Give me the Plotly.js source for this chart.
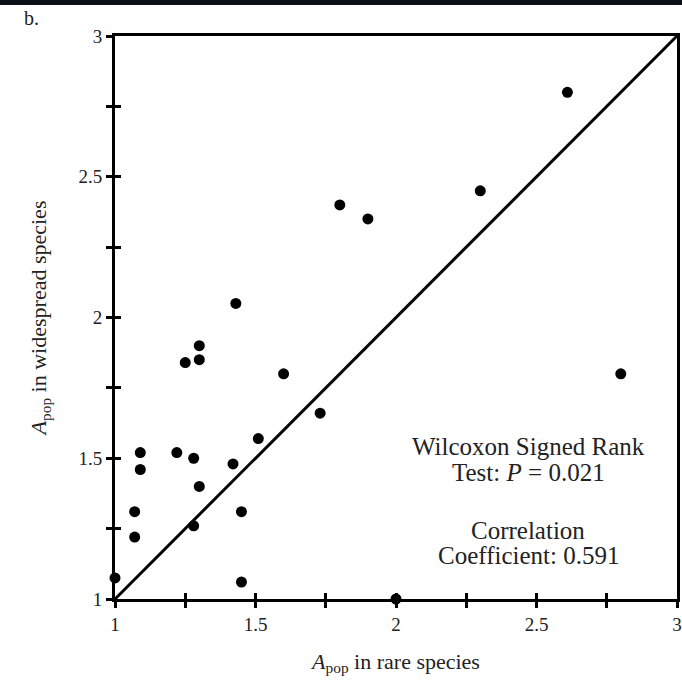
<!DOCTYPE html>
<html>
<head>
<meta charset="utf-8">
<script src="https://cdn.plot.ly/plotly-3.0.1.min.js"></script>
<style>html,body{margin:0;padding:0;background:#fff;}#chart{width:682px;height:688px;}</style>
</head>
<body>
<div id="chart"></div>
<script>
// A_pop in rare species (x) vs widespread species (y)
var rareSpecies = [1.00, 1.07, 1.07, 1.09, 1.09, 1.22, 1.25, 1.28, 1.28, 1.30, 1.30, 1.30, 1.42, 1.43, 1.45, 1.45, 1.51, 1.60, 1.73, 1.80, 1.90, 2.00, 2.30, 2.61, 2.80];
var widespreadSpecies = [1.075, 1.22, 1.31, 1.46, 1.52, 1.52, 1.84, 1.26, 1.50, 1.40, 1.85, 1.90, 1.48, 2.05, 1.31, 1.06, 1.57, 1.80, 1.66, 2.40, 2.35, 1.00, 2.45, 2.80, 1.80];
var equalityX = [1, 3];
var equalityY = [1, 3];
var tickVals = [1, 1.5, 2, 2.5, 3];
var tickText = ['1', '1.5', '2', '2.5', '3'];
var statLines = ['Wilcoxon Signed Rank', 'Test: <i>P</i> = 0.021', 'Correlation', 'Coefficient: 0.591'];
var statY = [1.54, 1.45, 1.245, 1.155];

var serif = '"Liberation Serif", "Times New Roman", Times, serif';
var txtColor = '#222';

var traces = [
  {x: equalityX, y: equalityY, mode: 'lines', line: {color: '#000', width: 3}, hoverinfo: 'skip', showlegend: false},
  {x: rareSpecies, y: widespreadSpecies, mode: 'markers', marker: {color: '#000', size: 11, symbol: 'circle'}, cliponaxis: false, showlegend: false},
  {x: [equalityX[0]], y: [equalityY[0]], xaxis: 'x2', yaxis: 'y2', mode: 'markers', marker: {opacity: 0}, hoverinfo: 'skip', showlegend: false}
];

var annotations = statLines.map(function (t, i) {
  return {x: 2.47, y: statY[i], xref: 'x', yref: 'y', text: t, showarrow: false,
          font: {family: serif, size: 25, color: txtColor}, xanchor: 'center', yanchor: 'middle'};
});
annotations.push({x: -0.165, y: 1.032, xref: 'paper', yref: 'paper', text: 'b.', showarrow: false,
  xanchor: 'left', yanchor: 'middle', font: {family: serif, size: 20, color: txtColor}});

var common = {
  range: [1, 3], showgrid: false, zeroline: false
};

var layout = {
  width: 682, height: 688,
  margin: {l: 115, r: 5, t: 36, b: 89},
  paper_bgcolor: '#fff', plot_bgcolor: '#fff',
  showlegend: false,
  xaxis: Object.assign({}, common, {
    showline: true, linecolor: '#000', linewidth: 3, mirror: true,
    tickvals: tickVals, ticktext: tickText,
    ticks: 'outside', ticklen: 6, tickwidth: 3, tickcolor: '#000',
    minor: {dtick: 0.25, tick0: 1, ticks: 'outside', ticklen: 6, tickwidth: 3, tickcolor: '#000'},
    tickfont: {family: serif, size: 19, color: txtColor},
    title: {text: '<i>A</i><sub>pop</sub> in rare species', font: {family: serif, size: 22, color: txtColor}, standoff: 20}
  }),
  yaxis: Object.assign({}, common, {
    showline: true, linecolor: '#000', linewidth: 3, mirror: true,
    tickvals: tickVals, ticktext: tickText,
    ticks: 'outside', ticklen: 6, tickwidth: 3, tickcolor: '#000',
    minor: {dtick: 0.25, tick0: 1, ticks: 'outside', ticklen: 6, tickwidth: 3, tickcolor: '#000'},
    tickfont: {family: serif, size: 19, color: txtColor},
    title: {text: '<i>A</i><sub>pop</sub> in widespread species', font: {family: serif, size: 22, color: txtColor}, standoff: 26}
  }),
  xaxis2: Object.assign({}, common, {
    overlaying: 'x', anchor: 'y2', side: 'bottom', showline: false, showticklabels: false,
    tickvals: tickVals, ticks: 'inside', ticklen: 6, tickwidth: 3, tickcolor: '#000',
    minor: {dtick: 0.25, tick0: 1, ticks: 'inside', ticklen: 6, tickwidth: 3, tickcolor: '#000'}
  }),
  yaxis2: Object.assign({}, common, {
    overlaying: 'y', anchor: 'x2', side: 'left', showline: false, showticklabels: false,
    tickvals: tickVals, ticks: 'inside', ticklen: 6, tickwidth: 3, tickcolor: '#000',
    minor: {dtick: 0.25, tick0: 1, ticks: 'inside', ticklen: 6, tickwidth: 3, tickcolor: '#000'}
  }),
  annotations: annotations,
  shapes: [
    {type: 'rect', xref: 'paper', yref: 'paper', x0: -0.3, x1: 1.1, y0: 1.055, y1: 1.075, fillcolor: '#0b0f18', line: {width: 0}, layer: 'above'}
  ]
};

Plotly.newPlot('chart', traces, layout, {displayModeBar: false, staticPlot: true});
</script>
</body>
</html>
